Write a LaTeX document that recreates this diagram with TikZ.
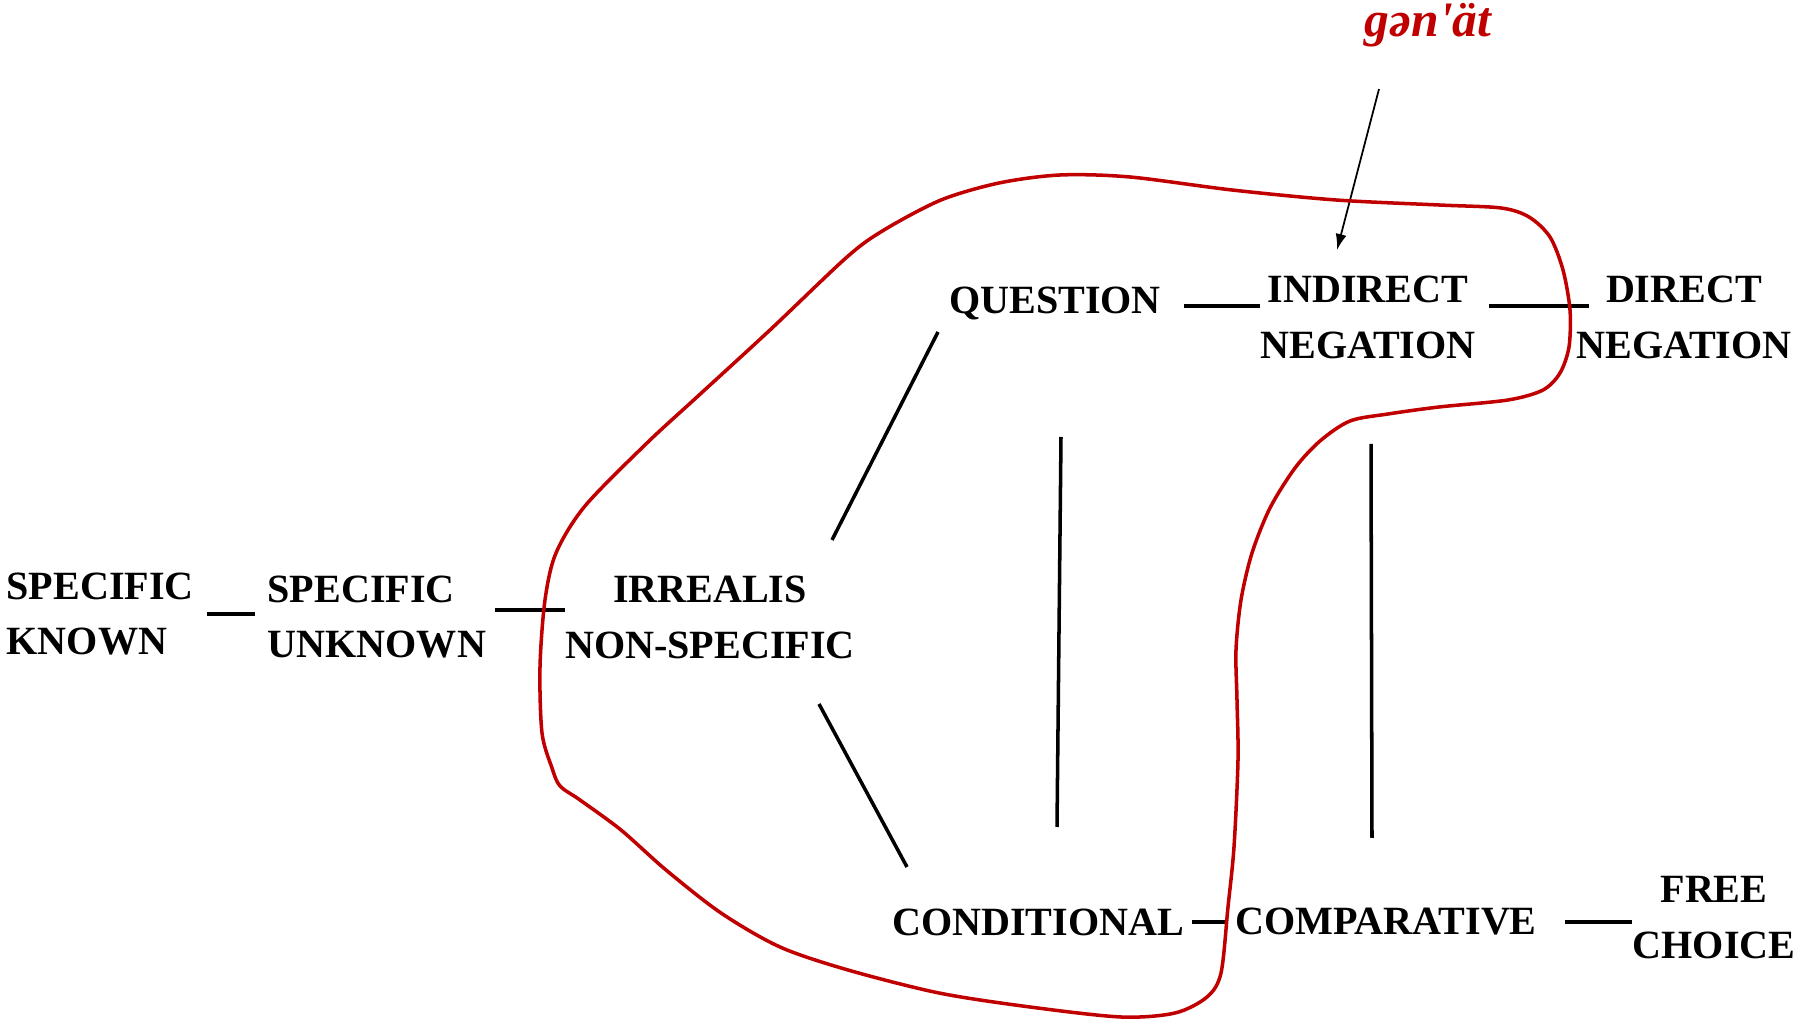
\documentclass[tikz,border=0pt]{standalone}
\usepackage{fontspec}
\setmainfont{Liberation Serif}
\usetikzlibrary{arrows.meta}
\definecolor{maprim}{RGB}{192,0,0}

\tikzset{
  fun/.style={font=\fontsize{11.4}{15.9}\selectfont\bfseries, inner sep=0pt, align=center},
  tie/.style={line width=1.4pt},
  link/.style={line width=1pt},
}

\begin{document}
\begin{tikzpicture}[x=0.01cm, y=-0.01cm]
    \useasboundingbox (0,0) rectangle (1799,1019);
    % functions
    \node[fun, anchor=west, align=left] (known) at (6,614) {SPECIFIC\\KNOWN};
    \node[fun, anchor=west, align=left] (unknown) at (267,617) {SPECIFIC\\UNKNOWN};
    \node[fun] (irrealis) at (710,617) {IRREALIS\\NON-SPECIFIC};
    \node[fun] (question) at (1055,303) {QUESTION};
    \node[fun] (indirect) at (1368,317) {INDIRECT\\NEGATION};
    \node[fun] (direct) at (1684,317) {DIRECT\\NEGATION};
    \node[fun] (conditional) at (1038,922) {CONDITIONAL};
    \node[fun] (comparative) at (1386,922) {COMPARATIVE};
    \node[fun] (free) at (1714,918) {FREE\\CHOICE};
    % the form
    \node[font=\fontsize{14.1}{16}\selectfont\bfseries\itshape, text=maprim, inner sep=0pt] (gloss) at (1428,25) {gən\textquotesingle ät};
    \coordinate (gtail) at (1379,89);
    \coordinate (gtip) at (1337,250);
    \draw[line width=0.5pt, -{Latex[length=0.16cm, width=0.11cm]}] (gtail) -- (gtip);
    % connections
    \draw[tie, shorten <=0.12cm, shorten >=0.12cm] (known.east) -- (known.east -| unknown.west);
    \draw[tie, shorten <=0.08cm] ([yshift=0.07cm]unknown.east) -- ([yshift=0.07cm]unknown.east -| irrealis.west);
    \draw[tie, shorten <=0.22cm] ([yshift=-0.03cm]question.east) -- ([yshift=-0.03cm]question.east -| indirect.west);
    \draw[tie, shorten <=0.13cm, shorten >=-0.13cm] ([yshift=0.11cm]indirect.east) -- ([yshift=0.11cm]indirect.east -| direct.west);
    \draw[tie, shorten <=0.07cm, shorten >=0.09cm] (conditional.east) -- (conditional.east -| comparative.west);
    \draw[tie, shorten <=0.28cm] (comparative.east) -- (comparative.east -| free.west);
    \draw[link] ([shift={(122,-77)}]irrealis.center) -- ([shift={(-117,29)}]question.center);
    \draw[link] ([shift={(109,87)}]irrealis.center) -- ([shift={(-131,-55)}]conditional.center);
    \draw[link] ([shift={(6,134)}]question.center) -- ([shift={(19,-95)}]conditional.center);
    \draw[link] ([shift={(3,127)}]indirect.center) -- ([shift={(-14,-84)}]comparative.center);
    % domain of the form
    \draw[maprim, line width=1pt] plot[smooth cycle, tension=0.5] coordinates {
        (1060,175) (1130,177) (1232,190) (1336,200) (1439,205) (1501,208)
        (1529,217) (1550,237) (1563,270) (1570,310) (1569,347) (1560,373)
        (1543,390) (1508,400) (1439,407) (1388,414) (1350,421) (1320,441)
        (1295,468) (1270,508) (1252,553) (1241,600) (1236,650) (1237,700)
        (1238,760) (1234,847) (1228,907) (1221,973) (1207,997) (1175,1013)
        (1121,1017) (1030,1007) (939,993) (848,970) (780,947) (721,913)
        (666,870) (621,830) (580,800) (560,786) (552,768) (542,733)
        (540,667) (545,600) (556,553) (585,506) (647,443) (697,397)
        (770,330) (847,257) (884,230) (941,200) (999,183)};
\end{tikzpicture}
\end{document}
